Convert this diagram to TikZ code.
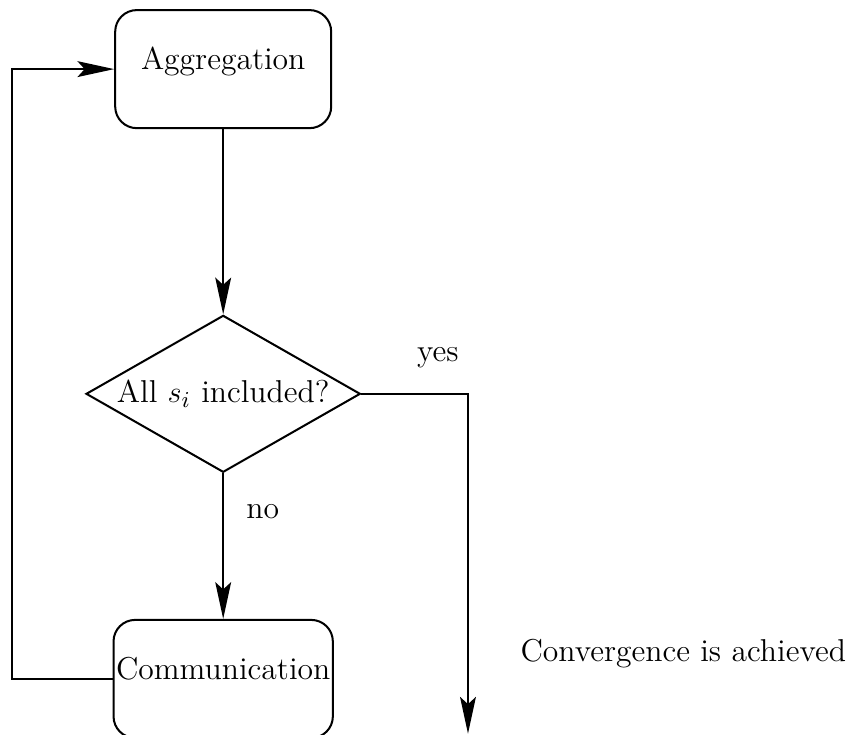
\documentclass[tikz,border=0pt]{standalone}
\usetikzlibrary{shapes.geometric, arrows.meta, positioning}
\tikzset{
    >={Stealth[length=5.1mm, width=2.2mm, inset=1mm]}, % long narrow arrow heads
    every node/.style={font=\fontsize{12.5}{15}\selectfont}, % all texts a bit larger
    block/.style={draw, thick, rounded corners=0.3cm, minimum width=3cm, minimum height=1.64cm, inner xsep=1pt, text depth=0.3cm}, % rounded step boxes
    decision/.style={draw, thick, diamond, aspect=1.75, minimum width=3.81cm, minimum height=2.18cm, inner sep=0pt}, % the test
}

\begin{document}
\begin{tikzpicture}
    \useasboundingbox (0,0) rectangle (11.806,-10.208);
    \node[block] (agg) at (3.10,-0.96) {Aggregation};
    \node[decision, node distance=4.51cm, below of=agg] (check) {All $s_i$ included?};
    \node[block, node distance=3.96cm, below of=check] (comm) {Communication};
    \coordinate (done) at (6.5,-10.19);
    \node (yes) at (6.08,-4.97) {yes};
    \node (no) at (3.65,-7.10) {no};
    \node (conv) at (9.49,-9.08) {Convergence is achieved};
    \draw[thick, ->] (agg) -- (check);
    \draw[thick, ->] (check) -- (comm);
    \draw[thick, ->] (check.east) -| (done);
    \draw[thick, ->] (comm.west) -- ++(-1.39,0) |- (agg.west);
\end{tikzpicture}
\end{document}
